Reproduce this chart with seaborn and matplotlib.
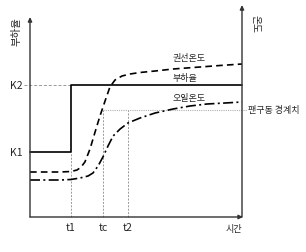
import matplotlib
matplotlib.use("Agg")
import matplotlib.pyplot as plt
import seaborn as sns
import pandas as pd

sns.set_style("white")
plt.rcParams['font.family'] = ['Noto Sans CJK KR', 'DejaVu Sans']

# ---- data (time units 0..10, value units 0..100) ----
t1, tc, t2 = 1.93, 3.44, 4.62
K1, K2 = 32.5, 66.0
threshold = 53.5

load_t = [0, t1, 10]
load_v = [K1, K2, K2]

wind_t = [0, 1.42, 1.93, 2.22, 2.41, 2.59, 2.83, 3.07, 3.30, 3.54, 3.77, 4.01, 4.34,
          4.72, 5.19, 5.90, 6.75, 8.02, 8.96, 10]
wind_v = [22.5, 22.5, 22.75, 23.5, 25, 27.5, 34, 42.5, 50.5, 58, 65, 68.5, 70.5,
          71.5, 72.25, 73, 74, 75, 75.75, 76.5]

oil_t = [0, 1.42, 1.93, 2.36, 2.74, 2.97, 3.21, 3.44, 3.68, 3.92, 4.25, 4.62, 5.19,
         5.90, 6.75, 7.55, 8.35, 9.20, 10]
oil_v = [18.5, 18.5, 18.75, 19.5, 20.5, 22, 25.5, 30, 35.5, 40.5, 44, 47, 49.5,
         52, 54, 55.5, 56.5, 57, 57.5]

x_ticks = [t1, tc, t2]
x_tick_labels = ["t1", "tc", "t2"]
y_ticks = [K1, K2]
y_tick_labels = ["K1", "K2"]

fig = plt.figure(figsize=(3.06, 2.53), dpi=100)
ax = fig.add_axes([0, 0, 1, 1])
ax.set_xlim(-30 / 21.2, 276 / 21.2)
ax.set_ylim(-17.5, 109)
ax.axis("off")

axc = "#333333"
arrow = dict(arrowstyle="-|>,head_length=0.25,head_width=0.12", color=axc, lw=1.0, shrinkA=0, shrinkB=0)
ax.annotate("", xy=(0, 100), xytext=(0, 0), arrowprops=arrow)
ax.annotate("", xy=(10, 106), xytext=(10, 0), arrowprops=arrow)
ax.annotate("", xy=(10.05, 0), xytext=(0, 0), arrowprops=arrow)

# guide lines
gc = "#999999"
ax.plot([-0.3, t1], [K2, K2], ls=(0, (3, 2)), color=gc, lw=0.7)
ax.plot([t1, t1], [0, K1], ls=(0, (2, 1.5)), color=gc, lw=0.7)
ax.plot([tc, tc], [0, threshold], ls=(0, (2, 1.5)), color=gc, lw=0.7)
ax.plot([t2, t2], [0, threshold], ls=(0, (2, 1.5)), color=gc, lw=0.7)
ax.plot([tc, 10.25], [threshold, threshold], ls=(0, (1, 1)), color="#b0b0b0", lw=0.8)

# series
df_load = pd.DataFrame({"t": load_t, "v": load_v})
ax.plot(df_load["t"], df_load["v"], drawstyle="steps-post", color="black", lw=1.2)
sns.lineplot(x=wind_t, y=wind_v, ax=ax, color="black", lw=1.2, linestyle=(0, (4, 2.5)), sort=False)
sns.lineplot(x=oil_t, y=oil_v, ax=ax, color="black", lw=1.2, linestyle=(0, (6, 2, 1.2, 2)), sort=False)

# labels
fs = 6.5
ax.text(7.5, 80, "권선온도", fontsize=fs, ha="center", va="center")
ax.text(7.3, 69.5, "부하율", fontsize=fs, ha="center", va="center")
ax.text(7.5, 59.5, "오일온도", fontsize=fs, ha="center", va="center")
ax.text(10.3, threshold, "팬구동 경계치", fontsize=fs, ha="left", va="center")

for tv, lab in zip(x_ticks, x_tick_labels):
    ax.text(tv, -5, lab, fontsize=7.5, ha="center", va="center")
for yv, lab in zip(y_ticks, y_tick_labels):
    ax.text(-0.35, yv, lab, fontsize=7.5, ha="right", va="center")

ax.text(9.6, -6, "시간", fontsize=6.5, ha="center", va="center")
ax.text(-0.64, 93, "부하율", fontsize=7.5, ha="center", va="center", rotation=90)
ax.text(10.62, 97, "온도", fontsize=7, ha="center", va="center", rotation=270)

fig.savefig("out.png", dpi=100)
